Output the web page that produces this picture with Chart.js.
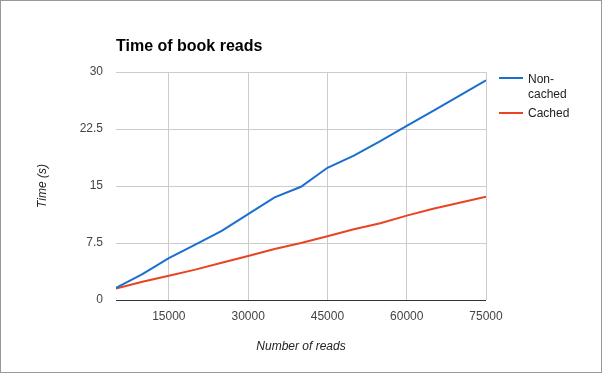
<!DOCTYPE html>
<html>
<head>
<meta charset="utf-8">
<script src="https://cdn.jsdelivr.net/npm/chart.js@4"></script>
<style>
  body { margin: 0; background: #fff; }
  #wrap { position: relative; width: 602px; height: 373px; font-family: Arial, "Liberation Sans", sans-serif; }
  #frame { position: absolute; left: 0; top: 0; width: 602px; height: 373px; box-sizing: border-box; border: 1px solid #999; pointer-events: none; }
  #title { position: absolute; left: 116px; top: 37px; font-size: 16px; font-weight: bold; color: #000; }
  .leg { position: absolute; left: 499px; width: 24px; height: 2px; }
  .legtxt { position: absolute; left: 528px; font-size: 12px; color: #222; line-height: 15px; }
</style>
</head>
<body>
<div id="wrap">
  <canvas id="grafico" width="602" height="373"></canvas>
  <div id="title">Time of book reads</div>
  <div class="leg" style="top:77px;background:#1a6fcf"></div>
  <div class="legtxt" style="top:72px">Non-<br>cached</div>
  <div class="leg" style="top:112px;background:#ea4324"></div>
  <div class="legtxt" style="top:106px">Cached</div>
  <div id="frame"></div>
</div>
<script>
const leituras = [5000, 10000, 15000, 20000, 25000, 30000, 35000, 40000, 45000, 50000, 55000, 60000, 65000, 70000, 75000];
const semCache = [1.6, 3.4, 5.5, 7.3, 9.1, 11.3, 13.5, 14.9, 17.4, 19.0, 20.9, 22.9, 24.9, 26.9, 28.9];
const comCache = [1.5, 2.4, 3.2, 4.0, 4.9, 5.8, 6.7, 7.5, 8.4, 9.3, 10.1, 11.1, 12.0, 12.8, 13.6];
const ticksX = [15000, 30000, 45000, 60000, 75000];
const ticksY = [0, 7.5, 15, 22.5, 30];

const fonte = { family: "Arial, 'Liberation Sans', sans-serif", size: 12 };

new Chart(document.getElementById("grafico"), {
    type: "line",
    data: {
        datasets: [
            {
                label: "Non-cached",
                data: leituras.map((x, i) => ({ x: x, y: semCache[i] })),
                borderColor: "#1a6fcf",
                borderWidth: 2,
                pointRadius: 0,
                tension: 0
            },
            {
                label: "Cached",
                data: leituras.map((x, i) => ({ x: x, y: comCache[i] })),
                borderColor: "#ea4324",
                borderWidth: 2,
                pointRadius: 0,
                tension: 0
            }
        ]
    },
    options: {
        responsive: false,
        animation: false,
        layout: { padding: { left: 0, right: 116, top: 72, bottom: 0 } },
        plugins: {
            legend: { display: false },
            title: { display: false },
            tooltip: { enabled: false }
        },
        scales: {
            x: {
                type: "linear",
                min: 5000,
                max: 75000,
                afterBuildTicks: s => { s.ticks = ticksX.map(v => ({ value: v })); },
                afterFit: s => { s.height = 73; },
                ticks: { color: "#444", font: fonte, padding: 9, maxRotation: 0, callback: v => String(v) },
                grid: { color: "#ccc", drawTicks: false },
                border: { display: false },
                title: { display: true, text: "Number of reads", color: "#222", font: { ...fonte, style: "italic" }, padding: { top: 0, bottom: 19 } }
            },
            y: {
                min: 0,
                max: 30,
                afterBuildTicks: s => { s.ticks = ticksY.map(v => ({ value: v })); },
                afterFit: s => { s.width = 116; },
                ticks: { color: "#444", font: fonte, padding: 13, callback: v => String(v) },
                grid: { color: c => c.tick && c.tick.value === 0 ? "#333" : "#ccc", drawTicks: false },
                border: { display: false },
                title: { display: true, text: "Time (s)", color: "#222", font: { ...fonte, style: "italic" }, padding: { top: 35, bottom: 0 } }
            }
        }
    }
});
</script>
</body>
</html>
